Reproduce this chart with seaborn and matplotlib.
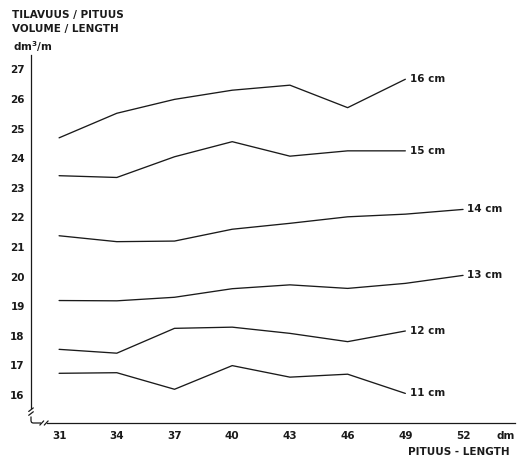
import matplotlib
matplotlib.use("Agg")
import matplotlib.pyplot as plt
import seaborn as sns
import pandas as pd

# ---- data ----
lengths_dm = [31, 34, 37, 40, 43, 46, 49, 52]
vol_16cm = [24.69, 25.52, 25.99, 26.30, 26.47, 25.71, 26.67]
vol_15cm = [23.41, 23.35, 24.05, 24.56, 24.07, 24.25, 24.25]
vol_14cm = [21.38, 21.18, 21.20, 21.60, 21.80, 22.02, 22.11, 22.27]
vol_13cm = [19.19, 19.18, 19.30, 19.59, 19.72, 19.60, 19.77, 20.04]
vol_12cm = [17.54, 17.41, 18.25, 18.29, 18.08, 17.80, 18.16]
vol_11cm = [16.73, 16.75, 16.19, 16.99, 16.60, 16.70, 16.05]
series_labels = ["16 cm", "15 cm", "14 cm", "13 cm", "12 cm", "11 cm"]
y_ticks = [16, 17, 18, 19, 20, 21, 22, 23, 24, 25, 26, 27]

series = [vol_16cm, vol_15cm, vol_14cm, vol_13cm, vol_12cm, vol_11cm]
rows = []
for lab, vals in zip(series_labels, series):
    for x, v in zip(lengths_dm, vals):
        rows.append({"length": x, "volume": v, "size": lab})
df = pd.DataFrame(rows)

sns.set_style("white")
plt.rcParams["font.family"] = ["DejaVu Sans"]
plt.rcParams["font.weight"] = "bold"

ink = "#1a1a1a"
fig = plt.figure(figsize=(5.26, 4.59), dpi=100)
ax = fig.add_axes([31 / 526, 36 / 459, 484 / 526, 368 / 459])

sns.lineplot(data=df, x="length", y="volume", hue="size",
             palette={s: ink for s in series_labels}, linewidth=0.95,
             legend=False, ax=ax, sort=False)

ax.set_xlim(29.54, 54.7)
ax.set_ylim(15.05, 27.49)
ax.set_xticks(lengths_dm)
ax.set_yticks(y_ticks)
ax.tick_params(axis="both", direction="out", length=3, width=0.9,
               colors=ink, labelsize=7.5, pad=1.5)
ax.tick_params(axis="x", pad=3)
ax.set_xlabel("")
ax.set_ylabel("")

for s in ["top", "right"]:
    ax.spines[s].set_visible(False)
for s in ["left", "bottom"]:
    ax.spines[s].set_color(ink)
    ax.spines[s].set_linewidth(0.9)
ax.spines["left"].set_bounds(15.56, 27.49)
ax.spines["bottom"].set_bounds(30.37, 54.7)

# axis break decorations
for yb in (15.50, 15.37):
    ax.plot([29.42, 29.66], [yb - 0.06, yb + 0.06], color=ink, lw=0.9,
            clip_on=False)
ax.plot([29.54, 29.54, 29.57, 29.64, 30.06],
        [15.27, 15.12, 15.07, 15.05, 15.05],
        color=ink, lw=0.9, clip_on=False, solid_capstyle="butt")
for xb in (30.1, 30.33):
    ax.plot([xb - 0.1, xb + 0.1], [14.98, 15.12], color=ink, lw=0.9,
            clip_on=False)

# series labels at line ends
for lab, vals in zip(series_labels, series):
    ax.annotate(lab, xy=(lengths_dm[len(vals) - 1], vals[-1]),
                xytext=(3, 0), textcoords="offset points",
                ha="left", va="center", fontsize=7.5, color=ink)

fig.text(12 / 526, 1 - 15 / 459, "TILAVUUS / PITUUS", fontsize=7.5,
         color=ink, ha="left", va="center")
fig.text(12 / 526, 1 - 29 / 459, "VOLUME / LENGTH", fontsize=7.5,
         color=ink, ha="left", va="center")
fig.text(13 / 526, 1 - 47 / 459, "dm$^{3}$/m", fontsize=7.5,
         color=ink, ha="left", va="center")
fig.text(515 / 526, 1 - 436 / 459, "dm", fontsize=7.5, color=ink,
         ha="right", va="center")
fig.text(510 / 526, 1 - 452 / 459, "PITUUS - LENGTH", fontsize=7.5,
         color=ink, ha="right", va="center")

fig.savefig("out.png", dpi=100, facecolor="white")
